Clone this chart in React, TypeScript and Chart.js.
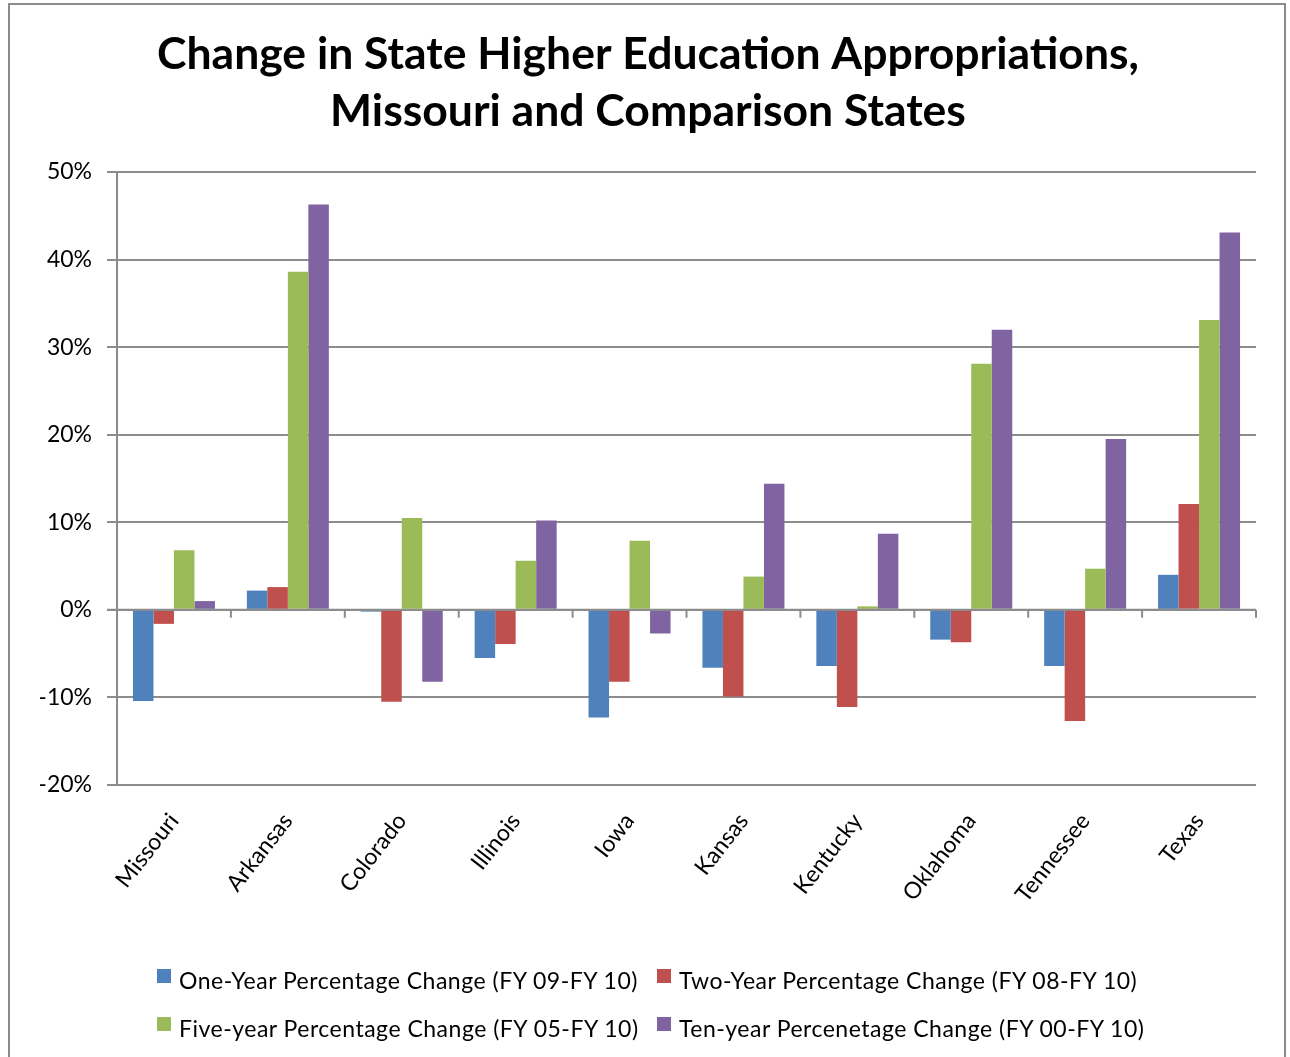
import React, { useEffect, useRef } from "react";
import { Chart, registerables } from "chart.js";

Chart.register(...registerables);

const categories = ["Missouri", "Arkansas", "Colorado", "Illinois", "Iowa", "Kansas", "Kentucky", "Oklahoma", "Tennessee", "Texas"];
const seriesLabels = [
  "One-Year Percentage Change (FY 09-FY 10)",
  "Two-Year Percentage Change (FY 08-FY 10)",
  "Five-year Percentage Change (FY 05-FY 10)",
  "Ten-year Percenetage Change (FY 00-FY 10)",
];
const oneYear = [-10.4, 2.2, -0.2, -5.5, -12.3, -6.6, -6.4, -3.4, -6.4, 4.0];
const twoYear = [-1.6, 2.6, -10.5, -3.9, -8.2, -9.9, -11.1, -3.7, -12.7, 12.1];
const fiveYear = [6.8, 38.6, 10.5, 5.6, 7.9, 3.8, 0.4, 28.1, 4.7, 33.1];
const tenYear = [1.0, 46.3, -8.2, 10.2, -2.7, 14.4, 8.7, 32.0, 19.5, 43.1];
const seriesColors = ["#4F81BD", "#C0504D", "#9BBB59", "#8064A2"];
const titleLines = ["Change in State Higher Education Appropriations,", "Missouri and Comparison States"];
const yMin = -20;
const yMax = 50;
const yStep = 10;

const GRID = "#8c8c8c";
const FONT = "Lato, 'DejaVu Sans', sans-serif";

const zeroAxisPlugin = {
  id: "zeroAxis",
  afterDatasetsDraw(chart: any) {
    const { ctx, scales } = chart;
    const x = scales.x;
    const y = scales.y;
    const y0 = y.getPixelForValue(0);
    const n = categories.length;
    const step = (x.right - x.left) / n;
    ctx.save();
    ctx.strokeStyle = GRID;
    ctx.lineWidth = 2;
    ctx.beginPath();
    ctx.moveTo(x.left - 10, y0);
    ctx.lineTo(x.right, y0);
    for (let i = 0; i <= n; i++) {
      const px = x.left + i * step;
      ctx.moveTo(px, y0);
      ctx.lineTo(px, y0 + 8);
    }
    ctx.stroke();
    ctx.restore();
  },
};

export default function App() {
  const canvasRef = useRef<HTMLCanvasElement | null>(null);

  useEffect(() => {
    let chart: Chart | null = null;
    let cancelled = false;
    const build = () => {
      if (cancelled || !canvasRef.current) return;
      const data = [oneYear, twoYear, fiveYear, tenYear];
      chart = new Chart(canvasRef.current, {
        type: "bar",
        data: {
          labels: categories,
          datasets: data.map((d, i) => ({
            label: seriesLabels[i],
            data: d,
            backgroundColor: seriesColors[i],
            borderWidth: 0,
            barPercentage: 1,
            categoryPercentage: 0.72,
          })),
        },
        options: {
          animation: false,
          responsive: false,
          devicePixelRatio: 1,
          layout: { padding: { left: 40, right: 34, top: 0, bottom: 0 } },
          plugins: {
            legend: { display: false },
            tooltip: { enabled: false },
            title: {
              display: true,
              text: titleLines,
              color: "#000",
              font: { family: FONT, size: 44.5, weight: "bold", lineHeight: "57px" },
              padding: { top: 26, bottom: 32 },
            },
          },
          scales: {
            x: {
              grid: { display: false },
              border: { display: false },
              ticks: {
                color: "#000",
                font: { family: FONT, size: 23 },
                minRotation: 52,
                maxRotation: 52,
                padding: 15,
              },
              afterFit: (s: any) => {
                s.height = 272;
              },
            },
            y: {
              min: yMin,
              max: yMax,
              grid: { color: GRID, lineWidth: 2, tickLength: 10 },
              border: { display: true, color: GRID, width: 2 },
              ticks: {
                stepSize: yStep,
                color: "#000",
                font: { family: FONT, size: 23 },
                padding: 15,
                callback: (v: any) => `${v}%`,
              },
              afterFit: (s: any) => {
                s.width = 77;
              },
            },
          },
        },
        plugins: [zeroAxisPlugin],
      });
    };
    const fontsAny = (document as any).fonts;
    if (fontsAny && fontsAny.load) {
      Promise.all([fontsAny.load(`bold 44px Lato`), fontsAny.load(`23px Lato`)]).then(build, build);
    } else {
      build();
    }
    return () => {
      cancelled = true;
      if (chart) chart.destroy();
    };
  }, []);

  const legendPos = [
    { left: 157, top: 969 },
    { left: 657, top: 969 },
    { left: 157, top: 1017 },
    { left: 657, top: 1017 },
  ];

  return (
    <div style={{ position: "fixed", left: 0, top: 0, width: 1290, height: 1057, background: "#fff", overflow: "hidden" }}>
      <canvas ref={canvasRef} width={1290} height={1057} style={{ position: "absolute", left: 0, top: 0, width: 1290, height: 1057 }} />
      <div
        style={{
          position: "absolute",
          left: 8,
          top: 3,
          width: 1278,
          height: 1100,
          boxSizing: "border-box",
          border: `2px solid ${GRID}`,
          pointerEvents: "none",
        }}
      />
      {seriesLabels.map((label, i) => (
        <React.Fragment key={label}>
          <div
            style={{
              position: "absolute",
              left: legendPos[i].left,
              top: legendPos[i].top,
              width: 14,
              height: 14,
              background: seriesColors[i],
            }}
          />
          <div
            style={{
              position: "absolute",
              left: legendPos[i].left + 22,
              top: legendPos[i].top - 3,
              height: 28,
              lineHeight: "28px",
              fontFamily: FONT,
              fontSize: 23,
              letterSpacing: "0.5px",
              color: "#000",
              whiteSpace: "nowrap",
            }}
          >
            {label}
          </div>
        </React.Fragment>
      ))}
    </div>
  );
}
